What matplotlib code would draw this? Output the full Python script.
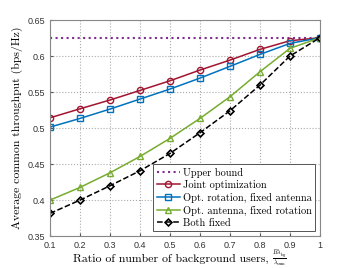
import matplotlib
matplotlib.use('Agg')
import matplotlib.pyplot as plt

plt.rcParams['mathtext.fontset'] = 'cm'

ratio = [0.1, 0.2, 0.3, 0.4, 0.5, 0.6, 0.7, 0.8, 0.9, 1.0]
upper = [0.6255] * 10
joint = [0.5143, 0.5268, 0.539, 0.5523, 0.5657, 0.5806, 0.5944, 0.6093, 0.6213, 0.6255]
rot_only = [0.5014, 0.5134, 0.5264, 0.5403, 0.5542, 0.5694, 0.5857, 0.6023, 0.6176, 0.6255]
ant_only = [0.40, 0.4176, 0.4379, 0.4606, 0.4857, 0.5134, 0.5435, 0.5782, 0.6107, 0.6255]
both_fixed = [0.3815, 0.40, 0.4199, 0.4407, 0.4648, 0.4935, 0.524, 0.5597, 0.60, 0.6255]

fig = plt.figure(figsize=(3.57, 2.68), dpi=100)
ax = fig.add_axes([0.14, 0.119, 0.756, 0.806])

ax.plot(ratio, upper, ':', color='#7E2F8E', lw=1.5, label='Upper bound')
ax.plot(ratio, joint, '-o', color='#A2142F', lw=1.1, ms=4.5, mfc='none', mew=1.0, label='Joint optimization')
ax.plot(ratio, rot_only, '-s', color='#0072BD', lw=1.1, ms=4, mfc='none', mew=1.0, label='Opt. rotation, fixed antenna')
ax.plot(ratio, ant_only, '-^', color='#77AC30', lw=1.1, ms=5, mfc='none', mew=1.0, label='Opt. antenna, fixed rotation')
ax.plot(ratio, both_fixed, '--D', color='black', lw=1.1, ms=3.5, mfc='none', mew=1.2, label='Both fixed')

ax.set_xlim(0.1, 1.0)
ax.set_ylim(0.35, 0.65)
ax.set_xticks(ratio)
ax.set_xticklabels(['0.1', '0.2', '0.3', '0.4', '0.5', '0.6', '0.7', '0.8', '0.9', '1'])
ax.set_yticks([0.35, 0.4, 0.45, 0.5, 0.55, 0.6, 0.65])
ax.set_yticklabels(['0.35', '0.4', '0.45', '0.5', '0.55', '0.6', '0.65'])
ax.tick_params(direction='in', labelsize=6.5, length=2.5, color='#555555', labelcolor='#333333')
for lab in ax.get_xticklabels() + ax.get_yticklabels():
    lab.set_family('Liberation Sans')
for s in ax.spines.values():
    s.set_color('#888888')
    s.set_linewidth(0.8)
ax.grid(True, linestyle=':', color='#aaaaaa', lw=0.8)

# x label: text plus a small fraction next to it
fig.text(0.205, 0.034, 'Ratio of number of background users,', family='cmr10',
         fontsize=8.5, va='center', ha='left')
fig.text(0.762, 0.036, r'$\frac{B\lambda_{\rm bg}}{\lambda_{\rm sum}}$', fontsize=6.2,
         va='center', ha='left')
ax.set_ylabel('Average common throughput (bps/Hz)', family='cmr10', fontsize=8.5, labelpad=3)

leg = ax.legend(loc='lower right', prop={'family': 'cmr10', 'size': 7.5}, fancybox=False,
                edgecolor='#555555', framealpha=1, handlelength=2.2, handletextpad=0.3,
                borderpad=0.3, labelspacing=0.25, borderaxespad=0.5)
leg.get_frame().set_linewidth(0.7)

fig.savefig('out.png', dpi=100)
